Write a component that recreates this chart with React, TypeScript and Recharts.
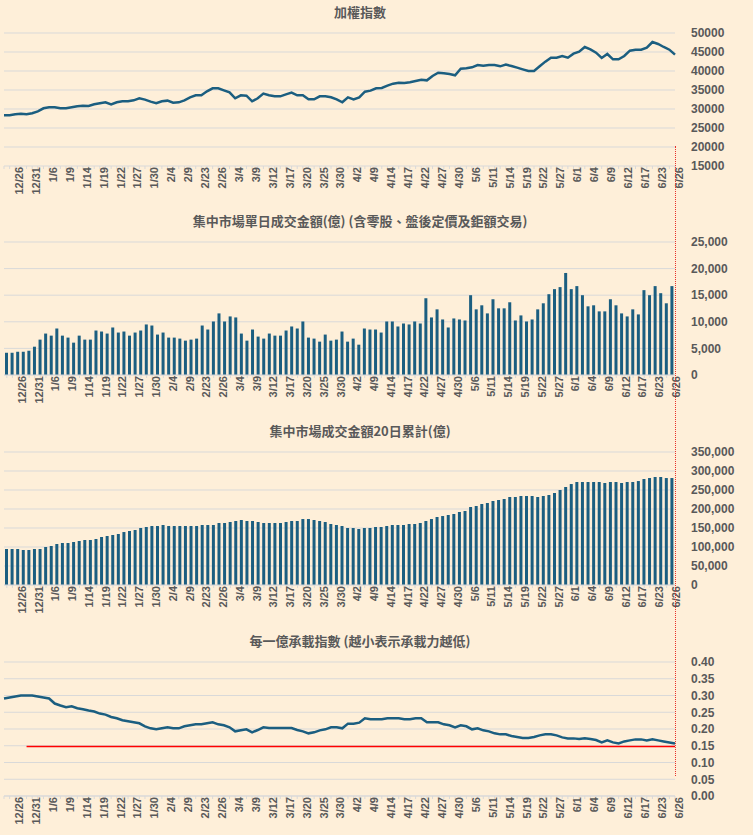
import React from 'react';
import { ComposedChart, Bar, Line, XAxis, YAxis, CartesianGrid } from 'recharts';

const tickLabels = [
  '12/26', '12/31', '1/6', '1/9', '1/14', '1/19', '1/22', '1/27', '1/30', '2/4',
  '2/9', '2/23', '2/26', '3/4', '3/9', '3/12', '3/17', '3/20', '3/25', '3/30',
  '4/2', '4/9', '4/14', '4/17', '4/22', '4/27', '4/30', '5/6', '5/11', '5/14',
  '5/19', '5/22', '5/27', '6/1', '6/4', '6/9', '6/12', '6/17', '6/23', '6/26',
];

const taiex = [
  28340, 28340, 28600, 28780, 28600, 28870, 29390, 30180, 30440, 30440,
  30180, 30180, 30440, 30710, 30880, 30800, 31230, 31500, 31760, 31230,
  31760, 32020, 32020, 32280, 32810, 32460, 31930, 31500, 32020, 32200,
  31670, 31760, 32280, 33070, 33600, 33600, 34650, 35440, 35440, 34910,
  34390, 32810, 33600, 33510, 32020, 32810, 34040, 33600, 33340, 33340,
  33860, 34300, 33600, 33600, 32550, 32550, 33340, 33340, 33070, 32550,
  31760, 33070, 32550, 33070, 34560, 34830, 35440, 35530, 36140, 36670,
  36930, 36840, 37020, 37370, 37720, 37540, 38690, 39560, 39390, 39210,
  38860, 40620, 40700, 40970, 41580, 41400, 41580, 41580, 41230, 41670,
  41320, 40880, 40440, 40000, 40000, 41230, 42460, 43510, 43510, 43950,
  43510, 44560, 45090, 46320, 45700, 44830, 43420, 44480, 43070, 43070,
  43950, 45350, 45610, 45610, 46140, 47630, 47110, 46320, 45610, 44300,
];

const dailyTurnover = [
  4180, 4180, 4370, 4370, 4560, 5320, 6650, 7790, 7400, 8740,
  7400, 7030, 6080, 7400, 6650, 6650, 8360, 8170, 7790, 8930,
  7980, 8170, 7400, 7980, 8360, 9500, 9300, 7600, 7980, 7030,
  7030, 6840, 6460, 6650, 6840, 9300, 8550, 10060, 11580, 10060,
  11010, 10820, 7790, 6460, 8550, 7220, 6840, 7790, 7400, 7400,
  8360, 9120, 8740, 10060, 7030, 6840, 6270, 7600, 6460, 6650,
  8170, 6270, 6840, 5700, 8740, 8550, 8550, 7980, 10060, 10060,
  9120, 9680, 9500, 10060, 9680, 14430, 10820, 12340, 10440, 8930,
  10630, 10440, 10250, 15000, 12340, 13100, 11580, 14240, 12530, 12530,
  13670, 10250, 11200, 10060, 10440, 12340, 13480, 15190, 16140, 16520,
  19180, 16140, 16710, 15000, 12910, 13100, 11960, 11960, 14240, 13100,
  11580, 11010, 12340, 11390, 15950, 15000, 16710, 15380, 13480, 16710,
];

const turnover20d = [
  94700, 94700, 94700, 92100, 92100, 94700, 94700, 100000, 102600, 107900,
  110500, 110500, 113100, 115800, 118400, 118400, 121000, 126300, 128900, 131600,
  134200, 139400, 142100, 144700, 150000, 152600, 155200, 155200, 157900, 155200,
  155200, 155200, 155200, 155200, 155200, 157900, 157900, 157900, 163100, 163100,
  165800, 168400, 171000, 168400, 168400, 165800, 163100, 163100, 163100, 163100,
  165800, 168400, 168400, 173600, 173600, 171000, 168400, 165800, 160500, 157900,
  155200, 150000, 150000, 147300, 150000, 150000, 152600, 152600, 155200, 157900,
  157900, 157900, 160500, 160500, 163100, 168400, 173600, 178900, 181500, 184200,
  186800, 192100, 194700, 205200, 207900, 213100, 215800, 221000, 223700, 226300,
  231600, 231600, 234200, 234200, 234200, 231600, 234200, 236800, 242100, 250000,
  257900, 265700, 271000, 271000, 271000, 271000, 271000, 268400, 271000, 271000,
  268400, 271000, 271000, 273600, 278900, 281500, 284200, 284200, 281500, 281500,
];

const loadIndex = [
  0.291, 0.294, 0.297, 0.300, 0.300, 0.300, 0.297, 0.294, 0.291, 0.276,
  0.270, 0.265, 0.268, 0.262, 0.259, 0.255, 0.252, 0.246, 0.243, 0.236,
  0.232, 0.226, 0.223, 0.220, 0.217, 0.208, 0.202, 0.199, 0.202, 0.205,
  0.202, 0.202, 0.208, 0.211, 0.214, 0.214, 0.217, 0.220, 0.214, 0.211,
  0.205, 0.193, 0.196, 0.199, 0.190, 0.197, 0.205, 0.203, 0.203, 0.203,
  0.203, 0.203, 0.197, 0.193, 0.187, 0.190, 0.196, 0.199, 0.205, 0.205,
  0.202, 0.216, 0.216, 0.219, 0.232, 0.229, 0.229, 0.229, 0.232, 0.232,
  0.232, 0.229, 0.229, 0.232, 0.232, 0.220, 0.220, 0.220, 0.214, 0.211,
  0.205, 0.211, 0.208, 0.199, 0.202, 0.196, 0.193, 0.187, 0.184, 0.184,
  0.179, 0.176, 0.173, 0.173, 0.176, 0.181, 0.184, 0.184, 0.181, 0.175,
  0.172, 0.172, 0.170, 0.172, 0.170, 0.167, 0.160, 0.166, 0.160, 0.157,
  0.163, 0.166, 0.169, 0.169, 0.166, 0.169, 0.166, 0.163, 0.160, 0.157,
];

const thresholdValue = 0.148;
const thresholdStart = 4;

const BLUE = '#1b5e80';
const GRID = '#d9d9d9';
const TEXT = '#595959';
const BG = '#feefd9';
const W = 753;
const H = 210;

// label every third day, starting at index 2
const fmtX = (v: any) => {
  const i = Number(v);
  return (i - 2) % 3 === 0 && i >= 2 ? tickLabels[(i - 2) / 3] ?? '' : '';
};

const data = taiex.map((t, i) => ({
  idx: i,
  taiex: t,
  daily: dailyTurnover[i],
  sum20: turnover20d[i],
  load: loadIndex[i],
  threshold: i >= thresholdStart ? thresholdValue : null,
}));

const fmtComma = (v: number) => v.toLocaleString('en-US');

const xAxis = (
  <XAxis
    dataKey="idx"
    interval={0}
    tickFormatter={fmtX}
    angle={-90}
    textAnchor="end"
    height={44}
    stroke={GRID}
    tickSize={3}
    tick={{ fontSize: 11, fill: TEXT, fontWeight: 700, dy: -4 }}
  />
);

const yAxis = (domain: number[], ticks: number[], fmt: (v: number) => string) => (
  <YAxis
    orientation="right"
    domain={domain}
    ticks={ticks}
    interval={0}
    axisLine={false}
    tickLine={false}
    width={78}
    tickMargin={10}
    tick={{ fontSize: 12, fill: TEXT, fontWeight: 700, textAnchor: 'start' }}
    tickFormatter={fmt}
  />
);

const margin = { top: 33, right: 0, left: 4, bottom: 0 };

const Title = ({ top, text }: { top: number; text: string }) => (
  <div
    style={{
      position: 'absolute', top, left: 0, width: 720, textAlign: 'center',
      fontSize: 13, fontWeight: 700, color: TEXT, fontFamily: '"Noto Sans CJK TC", sans-serif',
    }}
  >
    {text}
  </div>
);

const Panel = ({ top, children }: { top: number; children: React.ReactNode }) => (
  <div style={{ position: 'absolute', top, left: 0 }}>{children}</div>
);

export default function App() {
  const font = '"Liberation Sans", Arial, sans-serif';
  return (
    <div style={{ position: 'absolute', left: 0, top: 0, width: W, height: 835, background: BG, fontFamily: font, overflow: 'hidden' }}>
      <Title top={2} text="加權指數" />
      <Panel top={0}>
        <ComposedChart width={W} height={H} data={data} margin={margin}>
          <CartesianGrid vertical={false} stroke={GRID} horizontalValues={[20000, 25000, 30000, 35000, 40000, 45000, 50000]} />
          {xAxis}
          {yAxis([15000, 50000], [15000, 20000, 25000, 30000, 35000, 40000, 45000, 50000], (v) => String(v))}
          <Line dataKey="taiex" stroke={BLUE} strokeWidth={2.5} dot={false} isAnimationActive={false} />
        </ComposedChart>
      </Panel>

      <Title top={211} text="集中市場單日成交金額(億) (含零股、盤後定價及鉅額交易)" />
      <Panel top={209}>
        <ComposedChart width={W} height={H} data={data} margin={margin}>
          <CartesianGrid vertical={false} stroke={GRID} />
          {xAxis}
          {yAxis([0, 25000], [0, 5000, 10000, 15000, 20000, 25000], fmtComma)}
          <Bar dataKey="daily" fill={BLUE} barSize={3} isAnimationActive={false} />
        </ComposedChart>
      </Panel>

      <Title top={421} text="集中市場成交金額20日累計(億)" />
      <Panel top={419}>
        <ComposedChart width={W} height={H} data={data} margin={margin}>
          <CartesianGrid vertical={false} stroke={GRID} />
          {xAxis}
          {yAxis([0, 350000], [0, 50000, 100000, 150000, 200000, 250000, 300000, 350000], fmtComma)}
          <Bar dataKey="sum20" fill={BLUE} barSize={3} isAnimationActive={false} />
        </ComposedChart>
      </Panel>

      <Title top={631} text="每一億承載指數 (越小表示承載力越低)" />
      <Panel top={629}>
        <ComposedChart width={W} height={H + 1} data={data} margin={margin}>
          <CartesianGrid vertical={false} stroke={GRID} />
          {xAxis}
          {yAxis([0, 0.4], [0, 0.05, 0.1, 0.15, 0.2, 0.25, 0.3, 0.35, 0.4], (v) => v.toFixed(2))}
          <Line dataKey="threshold" stroke="#ff0000" strokeWidth={1.5} dot={false} isAnimationActive={false} connectNulls={false} />
          <Line dataKey="load" stroke={BLUE} strokeWidth={2.5} dot={false} isAnimationActive={false} />
        </ComposedChart>
      </Panel>

      <div style={{ position: 'absolute', left: 675, top: 146, height: 630, borderLeft: '1px dotted #e8302a' }} />
    </div>
  );
}
